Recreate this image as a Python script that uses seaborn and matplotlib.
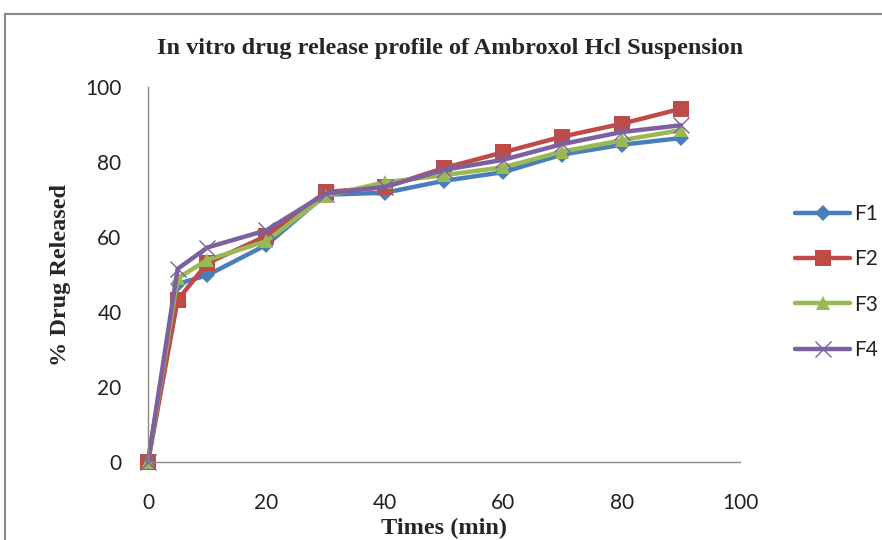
#%% Bibliotecas
import pandas as pd
import seaborn as sns
import matplotlib.pyplot as plt
from matplotlib.patches import Rectangle

#%% Dados (tempo em min, % liberado)
tempos = [0, 5, 10, 20, 30, 40, 50, 60, 70, 80, 90]
f1 = [0, 47.5, 49.8, 57.9, 71.3, 71.8, 75.0, 77.3, 82.0, 84.6, 86.4]
f2 = [0, 43.2, 53.0, 60.3, 72.0, 73.3, 78.4, 82.6, 86.8, 90.2, 94.2]
f3 = [0, 49.0, 53.9, 58.9, 71.0, 74.6, 76.5, 78.6, 82.8, 85.8, 88.5]
f4 = [0, 51.5, 57.2, 61.8, 71.6, 73.4, 77.9, 80.6, 84.8, 88.0, 89.8]
formulacoes = ["F1", "F2", "F3", "F4"]

df = pd.DataFrame({"tempo": tempos * 4,
                   "liberado": f1 + f2 + f3 + f4,
                   "form": [f for f in formulacoes for _ in tempos]})

cores = {"F1": "#4a7ebb", "F2": "#be4b48", "F3": "#98b954", "F4": "#7d60a0"}
marcadores = {"F1": "D", "F2": "s", "F3": "^", "F4": "x"}
tam = {"F1": 8, "F2": 11, "F3": 10, "F4": 12}

#%% Figura
sns.set_style("white")
fig = plt.figure(figsize=(8.82, 5.4), dpi=100)
ax = fig.add_axes([0.1678, 0.1444, 0.6712, 0.6944])

for f in formulacoes:
    sub = df[df["form"] == f]
    sns.lineplot(data=sub, x="tempo", y="liberado", ax=ax, color=cores[f],
                 linewidth=3.2, marker=marcadores[f], markersize=tam[f],
                 markeredgecolor=cores[f], markeredgewidth=1.0 if f == "F4" else 0,
                 label=f, clip_on=False)

ax.set_xlim(0, 100)
ax.set_ylim(0, 100)
ax.set_xticks(range(0, 101, 20))
ax.set_yticks(range(0, 101, 20))
for s in ["top", "right"]:
    ax.spines[s].set_visible(False)
for s in ["left", "bottom"]:
    ax.spines[s].set_color("#888888")
    ax.spines[s].set_linewidth(1.0)
ax.tick_params(direction="out", length=7, width=1, color="#888888",
               labelsize=15, labelcolor="#222222")
ax.tick_params(axis="x", pad=15)
ax.tick_params(axis="y", pad=12)
for lab in ax.get_xticklabels() + ax.get_yticklabels():
    lab.set_fontfamily("Lato")

serif = {"family": "Liberation Serif", "weight": "bold"}
ax.set_xlabel("Times (min)", fontsize=17.5, labelpad=4, **serif)
ax.set_ylabel("% Drug Released", fontsize=17.5, labelpad=10, **serif)
fig.text(0.51, 0.911, "In vitro drug release profile of Ambroxol Hcl Suspension",
         ha="center", va="center", fontsize=17.5, **serif)

leg = ax.legend(loc="center left", bbox_to_anchor=(1.062, 0.48), frameon=False,
                prop={"family": "Lato", "size": 15}, handlelength=2.6,
                labelspacing=1.22, handletextpad=0.2)
for t in leg.get_texts():
    t.set_color("#222222")

# moldura externa do gráfico
fig.patches.append(Rectangle((5 / 882, -0.2), 1.2, 1.2 - 14 / 540,
                             transform=fig.transFigure, fill=False,
                             edgecolor="#888888", linewidth=1.5))

fig.savefig("out.png", dpi=100)
